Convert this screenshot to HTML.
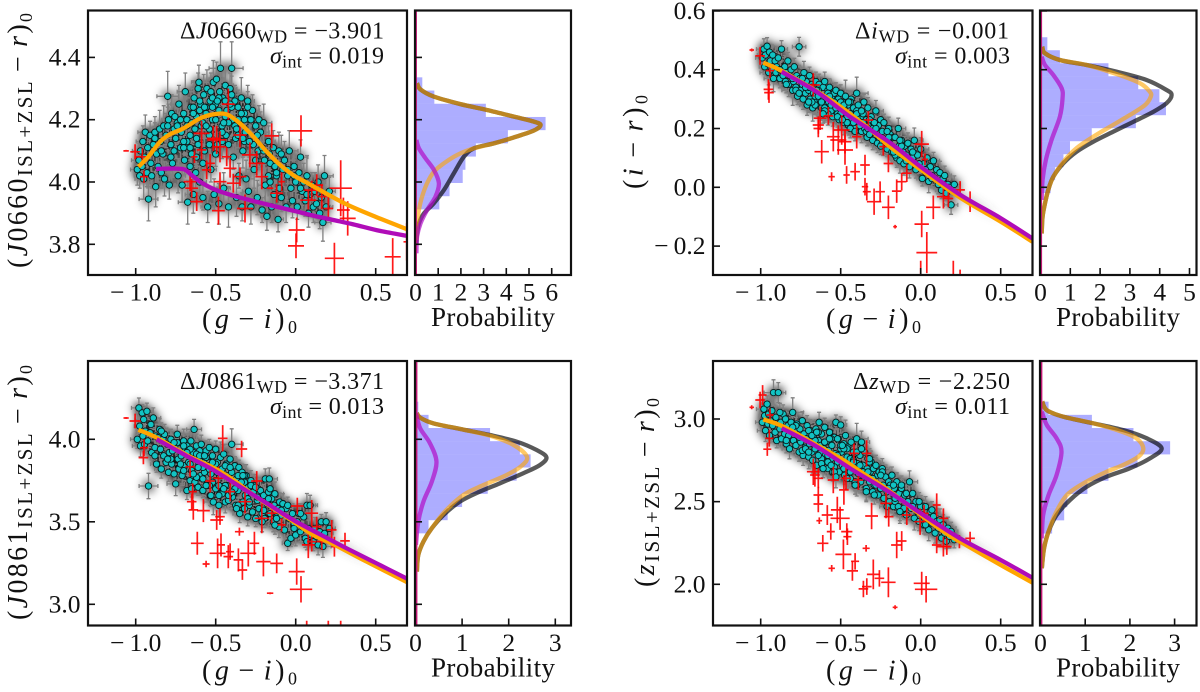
<!DOCTYPE html>
<html lang="en">
<head>
<meta charset="utf-8">
<title>Colour-colour diagrams with probability marginals</title>
<style>
html,body{margin:0;padding:0;background:#fff}
svg{display:block}
text{font-family:"Liberation Serif","DejaVu Serif",serif;fill:#111}
.m{font-style:italic}
.tick{font-size:25.5px}
.lab{font-size:28px}
.note{font-size:24px}
.sub{font-size:18px}
.lsub{font-size:21px}
.prob{font-size:27px}
</style>
</head>
<body>
<svg id="fig" xmlns="http://www.w3.org/2000/svg" width="1200" height="692" viewBox="0 0 1200 692">
<defs>
<filter id="haze" filterUnits="userSpaceOnUse" x="0" y="0" width="1200" height="692"><feGaussianBlur stdDeviation="4.6"/></filter>
<filter id="glow" filterUnits="userSpaceOnUse" x="0" y="0" width="1200" height="692"><feGaussianBlur stdDeviation="4"/></filter>
</defs>
<g id="plots"></g>
<g>
<text class="lab" transform="translate(27,268) rotate(-90)" textLength="255" lengthAdjust="spacing">(<tspan class="m">J</tspan>0660<tspan class="lsub" dy="5">ISL+ZSL</tspan><tspan dy="-5" dx="7">−</tspan><tspan class="m" dx="7">r</tspan>)<tspan class="sub" dy="5">0</tspan></text>
<text class="lab" transform="translate(27,620) rotate(-90)" textLength="255" lengthAdjust="spacing">(<tspan class="m">J</tspan>0861<tspan class="lsub" dy="5">ISL+ZSL</tspan><tspan dy="-5" dx="7">−</tspan><tspan class="m" dx="7">r</tspan>)<tspan class="sub" dy="5">0</tspan></text>
<text class="lab" transform="translate(642.5,189) rotate(-90)" textLength="94" lengthAdjust="spacing">(<tspan class="m">i</tspan><tspan dx="7">−</tspan><tspan class="m" dx="7">r</tspan>)<tspan class="sub" dy="5">0</tspan></text>
<text class="lab" transform="translate(654,587) rotate(-90)" textLength="189" lengthAdjust="spacing">(<tspan class="m">z</tspan><tspan class="lsub" dy="5">ISL+ZSL</tspan><tspan dy="-5" dx="7">−</tspan><tspan class="m" dx="7">r</tspan>)<tspan class="sub" dy="5">0</tspan></text>
<text class="lab" x="202" y="328" textLength="95" lengthAdjust="spacing">(<tspan class="m">g</tspan><tspan dx="6">−</tspan><tspan class="m" dx="6">i</tspan>)<tspan class="sub" dy="5">0</tspan></text>
<text class="lab" x="826" y="328" textLength="95" lengthAdjust="spacing">(<tspan class="m">g</tspan><tspan dx="6">−</tspan><tspan class="m" dx="6">i</tspan>)<tspan class="sub" dy="5">0</tspan></text>
<text class="lab" x="202" y="679.5" textLength="95" lengthAdjust="spacing">(<tspan class="m">g</tspan><tspan dx="6">−</tspan><tspan class="m" dx="6">i</tspan>)<tspan class="sub" dy="5">0</tspan></text>
<text class="lab" x="826" y="679.5" textLength="95" lengthAdjust="spacing">(<tspan class="m">g</tspan><tspan dx="6">−</tspan><tspan class="m" dx="6">i</tspan>)<tspan class="sub" dy="5">0</tspan></text>
<text class="prob" x="431" y="326" textLength="124" lengthAdjust="spacing">Probability</text>
<text class="prob" x="1056" y="326" textLength="124" lengthAdjust="spacing">Probability</text>
<text class="prob" x="431" y="676.7" textLength="124" lengthAdjust="spacing">Probability</text>
<text class="prob" x="1056" y="676.7" textLength="124" lengthAdjust="spacing">Probability</text>
</g>
<g>
<text class="note" x="180" y="38.5" textLength="204" lengthAdjust="spacing">Δ<tspan class="m">J</tspan>0660<tspan class="sub" dy="4">WD</tspan><tspan dy="-4"> = −3.901</tspan></text>
<text class="note" x="270" y="63.5" textLength="114" lengthAdjust="spacing"><tspan class="m">σ</tspan><tspan class="sub" dy="4">int</tspan><tspan dy="-4"> = 0.019</tspan></text>
<text class="note" x="855" y="38.5" textLength="154" lengthAdjust="spacing">Δ<tspan class="m">i</tspan><tspan class="sub" dy="4">WD</tspan><tspan dy="-4"> = −0.001</tspan></text>
<text class="note" x="895" y="63.5" textLength="115" lengthAdjust="spacing"><tspan class="m">σ</tspan><tspan class="sub" dy="4">int</tspan><tspan dy="-4"> = 0.003</tspan></text>
<text class="note" x="180" y="389" textLength="204" lengthAdjust="spacing">Δ<tspan class="m">J</tspan>0861<tspan class="sub" dy="4">WD</tspan><tspan dy="-4"> = −3.371</tspan></text>
<text class="note" x="270" y="414" textLength="114" lengthAdjust="spacing"><tspan class="m">σ</tspan><tspan class="sub" dy="4">int</tspan><tspan dy="-4"> = 0.013</tspan></text>
<text class="note" x="853" y="389" textLength="157" lengthAdjust="spacing">Δ<tspan class="m">z</tspan><tspan class="sub" dy="4">WD</tspan><tspan dy="-4"> = −2.250</tspan></text>
<text class="note" x="895" y="414" textLength="115" lengthAdjust="spacing"><tspan class="m">σ</tspan><tspan class="sub" dy="4">int</tspan><tspan dy="-4"> = 0.011</tspan></text>
</g>
</svg>
<script>
// ---- stellar sample: shared g-i colour ----
const gi = [
-0.99,-0.98,-0.975,-0.97,-0.96,-0.955,-0.95,-0.945,-0.94,-0.93,
-0.925,-0.92,-0.91,-0.905,-0.90,-0.89,-0.88,-0.875,-0.87,-0.86,
-0.85,-0.845,-0.84,-0.83,-0.825,-0.82,-0.81,-0.80,-0.795,-0.79,
-0.78,-0.775,-0.77,-0.76,-0.755,-0.75,-0.74,-0.735,-0.73,-0.72,
-0.715,-0.71,-0.70,-0.695,-0.69,-0.68,-0.675,-0.67,-0.66,-0.655,
-0.65,-0.64,-0.635,-0.63,-0.625,-0.62,-0.61,-0.605,-0.60,-0.595,
-0.59,-0.58,-0.575,-0.57,-0.56,-0.555,-0.55,-0.54,-0.535,-0.53,
-0.52,-0.515,-0.51,-0.50,-0.495,-0.49,-0.48,-0.475,-0.47,-0.46,
-0.455,-0.45,-0.44,-0.435,-0.43,-0.42,-0.41,-0.40,-0.395,-0.39,
-0.38,-0.375,-0.37,-0.36,-0.355,-0.35,-0.34,-0.335,-0.33,-0.32,
-0.315,-0.31,-0.30,-0.295,-0.29,-0.28,-0.27,-0.265,-0.26,-0.25,
-0.24,-0.235,-0.23,-0.22,-0.21,-0.20,-0.195,-0.19,-0.18,-0.17,
-0.165,-0.16,-0.15,-0.14,-0.135,-0.13,-0.12,-0.11,-0.105,-0.10,
-0.09,-0.08,-0.07,-0.06,-0.05,-0.04,-0.03,-0.02,-0.01,0.0,
0.01,0.02,0.03,0.04,0.05,0.06,0.07,0.08,0.09,0.10,
0.11,0.12,0.13,0.14,0.15,0.16,0.17,0.18,0.19,0.21,
-0.68,-0.66,-0.64,-0.62,-0.60,-0.58,-0.56,-0.54,-0.52,-0.50,
-0.48,-0.46,-0.44,-0.42,-0.40,-0.38,-0.36,-0.34,-0.32,-0.30,
-0.78,-0.74,-0.70,-0.66,-0.62,-0.58,-0.54,-0.50,-0.46,-0.42,
-0.88,-0.84,-0.80,-0.76,-0.72,-0.68,-0.64,-0.60,-0.56,-0.52,
-0.48,-0.44,-0.40,-0.36,-0.32,-0.28,-0.24,-0.20,-0.16,-0.12,
-0.70,-0.65,-0.61,-0.57,-0.53,-0.49,-0.45,-0.41,-0.37,-0.33,
-0.29,-0.25,-0.21,-0.17,-0.13,-0.09,-0.05,-0.01,0.03,0.07];
const errWeight = [
1.0,1.1,.8,1.2,.9,1.0,1.3,.8,1.1,.9,
1.0,1.4,.9,1.2,.8,1.1,1.0,1.3,.9,1.0,
1.2,.8,1.0,.9,1.3,1.1,.8,1.6,1.0,.9,
1.1,1.2,.9,1.0,.8,1.3,1.0,1.1,1.2,.9,
.8,1.1,1.3,.9,1.2,1.0,1.4,.8,1.1,1.0,
.9,1.2,1.1,.8,1.0,1.3,.9,1.1,1.0,1.2,
1.0,.8,1.3,.9,1.1,1.2,1.0,.9,1.1,.8,
1.2,1.4,1.0,.9,1.1,.8,1.3,1.0,1.7,.9,
1.1,1.0,1.2,.8,.9,1.3,1.0,1.7,1.1,.8,
1.0,.9,1.2,1.1,.8,1.0,1.3,.9,1.1,1.0,
.8,1.2,1.0,.9,1.3,1.1,1.0,.8,1.2,.9,
1.1,1.0,.9,1.3,.8,1.2,1.0,1.1,.9,1.0,
1.2,.8,1.0,1.1,.9,1.3,1.0,.8,1.2,1.0,
.9,1.1,1.2,1.0,.8,1.3,.9,1.1,1.0,1.2,
.8,1.0,1.1,.9,1.2,1.0,1.3,.9,1.1,.8,
1.0,1.2,.9,1.1,1.0,.8,1.2,1.3,1.0,.9,
.9,1.0,.8,1.1,1.0,.9,1.2,.8,1.0,.9,
1.1,.8,1.0,.9,1.2,1.0,.8,1.1,.9,1.0,
.9,1.1,.8,1.0,.9,1.2,1.0,.8,1.1,.9,
1.0,.9,1.2,.8,1.1,1.0,.9,1.2,.8,1.1,
.9,1.0,1.2,.8,1.1,.9,1.0,1.2,.8,1.0,
1.1,.9,1.0,.8,1.2,.9,1.1,1.0,.8,1.2,
1.0,.9,1.1,.8,1.0,1.2,.9,1.0,1.1,.9];
// ---- stellar sample: per-panel colours ----
const j0660Colour = [
4.04,4.07,4.02,4.10,4.05,4.13,4.01,4.08,4.16,4.03,
4.11,3.945,4.15,4.06,4.02,4.12,4.16,3.985,4.09,4.05,
4.17,4.13,4.03,4.09,4.18,4.01,4.15,4.275,4.20,3.99,
4.12,4.22,4.06,4.17,4.21,4.14,4.19,4.02,4.25,4.11,
4.16,3.99,4.22,4.07,4.29,4.13,3.935,4.19,4.05,4.24,
4.09,3.96,4.27,4.17,4.03,4.21,4.12,4.32,4.00,4.25,
4.18,3.95,4.28,4.10,4.22,4.30,3.92,4.15,4.26,4.04,
4.20,4.32,3.96,4.25,4.33,4.12,3.93,4.29,4.365,4.18,
4.27,3.98,4.31,4.15,4.23,3.92,4.30,4.365,4.20,4.08,
4.26,4.14,3.95,4.24,4.02,4.19,4.27,3.92,4.10,4.22,
4.16,4.01,4.26,3.97,4.20,3.92,4.23,4.12,4.04,4.18,
3.95,4.10,4.20,4.16,3.91,4.19,4.07,3.99,3.89,4.13,
4.09,4.00,3.92,4.11,3.96,4.06,4.02,3.88,4.10,3.98,
3.95,4.04,4.07,3.92,4.02,4.10,3.98,3.94,4.05,4.00,
3.92,4.03,4.08,3.97,4.00,3.94,4.02,3.90,3.96,3.99,
3.92,3.97,3.93,4.00,3.90,3.95,3.87,4.02,3.92,3.97,
4.20,4.15,4.24,4.14,4.26,4.19,4.24,4.17,4.27,4.20,
4.23,4.16,4.26,4.19,4.24,4.18,4.15,4.22,4.13,4.24,
4.08,4.18,4.13,4.11,4.08,4.06,4.12,4.09,4.13,4.12,
4.14,4.10,4.18,4.10,4.20,4.18,4.22,4.23,4.18,4.24,
4.27,4.21,4.28,4.20,4.20,4.20,4.15,4.10,4.06,4.03,
4.11,4.19,4.30,4.24,4.29,4.26,4.19,4.25,4.17,4.14,
4.13,4.07,4.11,4.02,4.05,4.09,4.04,4.02,3.98,3.96];
const iColour = [
.44,.47,.41,.45,.48,.42,.39,.46,.43,.40,
.45,.37,.43,.39,.41,.44,.37,.40,.47,.38,
.41,.36,.39,.43,.35,.38,.40,.33,.36,.41,
.34,.38,.31,.478,.37,.33,.35,.30,.39,.32,
.36,.28,.33,.38,.30,.35,.27,.32,.29,.36,
.33,.28,.35,.30,.31,.27,.34,.29,.36,.30,
.26,.33,.29,.34,.27,.31,.24,.32,.28,.33,
.25,.30,.23,.32,.27,.29,.22,.26,.31,.24,
.28,.21,.25,.30,.23,.27,.20,.32,.24,.28,
.22,.26,.19,.24,.29,.20,.23,.17,.27,.21,
.18,.24,.16,.22,.20,.26,.15,.21,.17,.23,
.19,.14,.22,.16,.13,.20,.15,.18,.12,.17,
.13,.17,.10,.20,.14,.09,.16,.12,.08,.14,
.11,.15,.07,.13,.10,.16,.06,.11,.08,.13,
.03,.08,.05,.10,.02,.07,.04,.09,.03,.06,
.01,.05,-.01,.03,.04,-.02,.01,.0,-.06,.01,
.34,.28,.33,.31,.27,.32,.26,.29,.28,.25,
.27,.24,.29,.22,.26,.21,.25,.19,.23,.20,
.33,.37,.34,.31,.29,.25,.28,.29,.22,.24,
.40,.35,.37,.32,.34,.29,.31,.26,.28,.24,
.28,.20,.25,.22,.18,.20,.15,.17,.11,.14,
.29,.33,.25,.31,.27,.23,.29,.19,.26,.20,
.22,.14,.19,.12,.16,.09,.12,.08,.06,.03];
const j0861Colour = [
4.0,4.19,4.08,3.96,4.16,4.02,4.12,3.97,4.05,4.17,
3.99,3.717,4.04,4.09,3.92,4.13,3.95,4.02,3.85,4.01,
4.06,3.94,3.82,4.0,3.9,4.03,3.86,3.97,3.8,3.92,
4.0,3.85,3.93,3.79,3.96,3.73,4.03,3.88,3.82,3.98,
3.9,3.78,3.99,3.84,3.93,3.69,3.95,3.86,3.75,3.99,
3.81,3.92,4.06,3.74,3.88,3.96,3.71,3.85,3.93,3.78,
3.97,3.69,3.87,3.8,3.93,3.72,3.84,3.95,3.66,3.79,
3.9,3.62,3.83,3.94,3.7,3.86,3.6,3.78,3.89,3.67,
3.8,3.91,3.62,3.85,3.72,3.78,3.88,3.97,3.65,3.75,
3.84,3.6,3.76,3.69,3.83,3.55,3.72,3.8,3.62,3.74,
3.66,3.78,3.53,3.71,3.6,3.75,3.56,3.68,3.72,3.52,
3.63,3.7,3.58,3.69,3.55,3.66,3.52,3.76,3.61,3.68,
3.76,3.55,3.64,3.5,3.6,3.67,3.53,3.58,3.47,3.62,
3.54,3.61,3.45,3.58,3.37,3.52,3.4,3.55,3.49,3.42,
3.5,3.55,3.44,3.47,3.53,3.4,3.6,3.46,3.6,3.42,
3.38,3.46,3.41,3.36,3.44,3.5,3.35,3.43,3.5,3.46,
3.96,3.85,3.78,3.91,3.87,3.76,3.89,3.82,3.74,3.85,
3.66,3.82,3.72,3.63,3.8,3.7,3.6,3.74,3.78,3.64,
3.88,3.98,3.81,3.94,3.77,3.83,3.72,3.7,3.82,3.66,
3.9,4.05,3.88,3.98,3.85,3.92,3.79,3.9,3.72,3.86,
3.72,3.84,3.68,3.78,3.58,3.72,3.65,3.57,3.7,3.52,
3.96,3.7,3.83,3.9,3.66,3.8,3.7,3.83,3.58,3.78,
3.62,3.71,3.5,3.64,3.48,3.57,3.6,3.46,3.55,3.38];
const zColour = [
2.98,3.06,3.02,2.93,3.09,2.97,3.03,2.9,2.99,3.05,
2.96,3.16,2.92,3.01,2.87,3.16,2.94,2.98,2.88,3.03,
2.91,3.0,2.85,2.96,2.9,2.82,2.98,3.04,2.87,2.93,
2.84,2.97,2.9,2.8,2.94,2.86,2.99,2.78,2.91,2.83,
2.88,2.96,2.77,2.85,2.93,2.8,2.75,2.9,2.83,2.94,
2.72,2.87,2.98,2.79,2.84,2.91,2.74,2.82,2.95,2.78,
2.86,2.7,2.81,2.92,2.76,2.84,2.68,2.89,2.79,2.98,
2.74,2.88,2.68,2.964,2.8,2.72,2.85,2.66,2.9,2.77,
2.83,2.65,2.76,2.86,2.7,2.8,2.62,2.88,2.73,2.67,
2.78,2.62,2.86,2.72,2.65,2.8,2.58,2.7,2.76,2.62,
2.68,2.74,2.56,2.7,2.6,2.72,2.66,2.54,2.68,2.58,
2.7,2.6,2.52,2.65,2.56,2.62,2.5,2.6,2.66,2.47,
2.58,2.5,2.62,2.47,2.55,2.44,2.58,2.52,2.46,2.54,
2.42,2.5,2.62,2.46,2.55,2.4,2.5,2.44,2.38,2.47,
2.42,2.36,2.47,2.39,2.33,2.44,2.37,2.41,2.31,2.38,
2.34,2.39,2.28,2.36,2.31,2.26,2.34,2.29,2.32,2.27,
2.9,2.82,2.92,2.76,2.86,2.74,2.88,2.71,2.78,2.82,
2.7,2.82,2.64,2.75,2.6,2.72,2.68,2.56,2.74,2.64,
2.96,2.81,2.93,2.87,2.73,2.78,2.68,2.84,2.64,2.74,
3.04,2.87,2.95,2.89,2.82,2.9,2.78,2.86,2.72,2.88,
2.82,2.68,2.8,2.66,2.76,2.6,2.68,2.58,2.52,2.6,
2.8,2.92,2.7,2.88,2.65,2.84,2.72,2.6,2.82,2.68,
2.54,2.66,2.47,2.6,2.44,2.55,2.47,2.5,2.36,2.45];
// ---- red outlier stars: panel J0660 ----
const redXJ0660 = [-1.06,-1.004,-.958,-.948,-.66,-.65,-.619,-.633,-.588,-.494,-.473,-.483,-.535,-.473,-.41,-.421,-.515,-.348,-.244,-.286,-.212,-.15,-.317,-.39,-.348,-.16,-.119,-.088,.033,.006,.002,.079,.1,.131,.163,.204,.242,.281,.298,.325,.606,.694,-.588,-.556,-.431];
const redYJ0660 = [4.10,4.097,4.081,4.017,4.001,3.98,3.937,4.081,4.156,4.135,4.113,3.908,4.06,4.001,4.044,4.25,4.14,4.151,4.06,4.087,4.017,4.148,3.915,3.996,4.017,3.98,3.964,4.001,4.164,3.846,3.795,3.942,3.974,3.99,3.953,3.915,3.755,3.98,3.91,3.883,3.76,3.808,4.103,4.039,4.081];
const redExJ0660 = [.017,.03,.04,.025,.04,.04,.04,.02,.05,.06,.04,.04,.03,.04,.04,.04,.04,.04,.05,.05,.04,.045,.05,.04,.04,.02,.04,.02,.07,.05,.05,.05,.05,.04,.03,.03,.06,.07,.04,.05,.05,.02,.03,.03,.03];
const redEyJ0660 = [.003,.024,.027,.02,.03,.03,.03,.02,.04,.045,.05,.045,.03,.03,.03,.05,.04,.04,.04,.04,.04,.04,.045,.03,.03,.003,.03,.03,.05,.04,.04,.03,.03,.035,.04,.04,.05,.09,.04,.055,.06,.06,.03,.03,.03];
// ---- red outlier stars: panel i ----
const redXI = [-1.056,-1.004,-.942,-.952,-.948,-.671,-.629,-.577,-.64,-.64,-.619,-.546,-.494,-.515,-.473,-.4,-.473,-.327,-.234,-.348,-.557,-.463,-.41,-.202,-.348,-.337,-.254,-.291,-.202,-.15,-.119,-.087,-.16,.006,.038,.079,.006,.027,.0,.204,.246,.142,.173,.246,.309];
const redYI = [.467,.447,.397,.333,.322,.348,.235,.243,.212,.2,.121,.172,.195,.161,.155,.172,.127,.229,.138,.076,.036,.042,.053,.081,.002,-.015,-.015,-.049,-.068,-.013,.019,.048,-.134,-.125,-.222,-.068,.147,.095,-.31,-.3,-.31,-.032,-.038,-.009,-.049];
const redExI = [.014,.03,.025,.03,.03,.04,.04,.03,.035,.03,.045,.04,.05,.05,.04,.03,.05,.03,.025,.03,.02,.02,.03,.03,.02,.025,.03,.045,.04,.03,.03,.03,.012,.045,.065,.045,.045,.02,.03,.03,.03,.04,.03,.03,.02];
const redEyI = [.005,.03,.025,.035,.035,.04,.04,.03,.03,.03,.04,.05,.05,.05,.04,.04,.05,.03,.03,.035,.015,.03,.03,.03,.03,.03,.035,.045,.04,.04,.03,.03,.006,.045,.07,.04,.045,.02,.06,.05,.03,.04,.03,.03,.035];
// ---- red outlier stars: panel J0861 ----
const redXJ0861 = [-1.06,-1.004,-.948,-.952,-.66,-.644,-.65,-.64,-.577,-.494,-.473,-.535,-.483,-.456,-.338,-.41,-.244,-.317,-.212,-.15,-.088,.01,.1,.131,.225,.308,.079,.1,.163,.242,-.615,-.56,-.488,-.467,-.421,-.41,-.358,-.333,-.296,-.258,-.202,-.119,-.352,-.16,.006,.033,.069,.204,.281];
const redYJ0861 = [4.129,4.111,3.949,3.889,3.834,3.683,3.622,3.572,3.568,3.511,3.531,3.747,3.764,4.006,3.941,3.683,3.747,3.622,3.521,3.552,3.481,3.596,3.552,3.471,3.451,3.384,3.36,3.38,3.38,3.349,3.37,3.244,3.309,3.36,3.289,3.319,3.269,3.208,3.309,3.37,3.259,3.248,3.44,3.067,3.198,3.091,2.82,2.82,2.82];
const redExJ0861 = [.016,.035,.025,.03,.03,.025,.03,.03,.04,.04,.03,.03,.03,.03,.035,.03,.035,.04,.045,.03,.025,.04,.04,.03,.03,.03,.04,.03,.03,.02,.04,.022,.05,.025,.03,.025,.03,.03,.05,.03,.045,.04,.028,.02,.05,.07,.01,.01,.01];
const redEyJ0861 = [.006,.045,.05,.04,.06,.05,.05,.06,.07,.06,.05,.07,.07,.08,.05,.06,.06,.07,.09,.06,.04,.05,.08,.06,.06,.05,.08,.06,.05,.06,.07,.02,.09,.07,.07,.05,.07,.06,.08,.07,.09,.06,.025,.006,.08,.08,.08,.08,.08];
// ---- red outlier stars: panel z ----
const redXZ = [-1.056,-1.004,-.988,-.942,-.946,-.959,-.671,-.661,-.64,-.64,-.64,-.584,-.634,-.521,-.504,-.48,-.467,-.546,-.417,-.338,-.39,-.307,-.217,-.2,-.562,-.612,-.462,-.458,-.483,-.556,-.41,-.427,-.341,-.358,-.337,-.296,-.258,-.202,-.15,-.119,-.087,-.16,.006,.034,-.004,.1,.021,.142,.142,.163,.1,.309,.242];
const redYZ = [3.071,3.115,3.145,3.024,2.883,2.817,2.681,2.661,2.641,2.54,2.486,2.419,2.385,2.45,2.399,2.571,2.641,2.631,2.792,2.792,2.631,2.413,2.49,2.409,2.319,2.248,2.319,2.288,2.181,2.097,2.139,2.081,2.218,1.972,1.986,2.06,2.036,2.012,2.238,2.262,2.419,1.861,2.006,1.97,2.379,2.48,2.429,2.399,2.228,2.228,2.238,2.278,2.258];
const redExZ = [.014,.03,.025,.022,.025,.025,.04,.03,.03,.03,.03,.035,.018,.04,.06,.03,.03,.035,.03,.03,.03,.04,.035,.03,.025,.035,.035,.025,.05,.02,.025,.035,.022,.03,.03,.04,.03,.045,.035,.03,.03,.015,.05,.07,.035,.025,.03,.03,.04,.03,.03,.03,.025];
const redEyZ = [.012,.05,.06,.04,.05,.04,.08,.07,.06,.05,.05,.06,.02,.08,.07,.09,.07,.08,.06,.08,.06,.08,.09,.06,.05,.05,.05,.05,.09,.02,.05,.06,.02,.05,.05,.09,.05,.09,.08,.06,.06,.012,.07,.08,.08,.07,.05,.06,.06,.05,.05,.04,.04];
// ---- model sequences in the colour-colour plane ----
const orangeXJ0660 = [-.983,-.921,-.848,-.786,-.702,-.598,-.515,-.431,-.348,-.265,-.181,-.098,-.015,.069,.152,.319,.506,.698];
const orangeYJ0660 = [4.049,4.081,4.129,4.153,4.172,4.204,4.217,4.217,4.188,4.146,4.097,4.055,4.022,3.998,3.974,3.928,3.887,3.848];
const magentaXJ0660 = [-.873,-.806,-.702,-.650,-.598,-.515,-.390,-.265,-.140,-.015,.110,.235,.360,.527,.698];
const magentaYJ0660 = [4.042,4.043,4.041,4.022,4.001,3.978,3.956,3.939,3.923,3.908,3.892,3.878,3.864,3.843,3.827];
const orangeXI = [-.984,-.859,-.546,-.338,-.192,0,.246,.5,.698];
const orangeYI = [.424,.393,.291,.206,.138,.06,-.035,-.117,-.185];
const magentaXI = [-.869,-.65,-.442,-.2,0,.246,.5,.698];
const magentaYI = [.393,.325,.24,.155,.07,-.025,-.105,-.174];
const orangeXJ0861 = [-.983,-.869,-.681,-.515,-.39,-.265,-.14,-.015,.11,.235,.44,.698];
const orangeYJ0861 = [4.057,4.01,3.905,3.828,3.754,3.663,3.582,3.501,3.42,3.364,3.26,3.133];
const magentaXJ0861 = [-.869,-.681,-.515,-.348,-.181,-.015,.152,.319,.506,.698];
const magentaYJ0861 = [4.0,3.899,3.814,3.713,3.612,3.511,3.424,3.339,3.248,3.154];
const orangeXZ = [-.984,-.859,-.65,-.484,-.359,-.202,0,.163,.246,.5,.698];
const orangeYZ = [2.998,2.954,2.843,2.752,2.671,2.57,2.42,2.305,2.258,2.117,2.01];
const magentaXZ = [-.869,-.65,-.442,-.2,0,.246,.5,.698];
const magentaYZ = [2.944,2.833,2.702,2.56,2.43,2.278,2.147,2.04];
// ---- marginal histograms ----
const histStartJ0660 = 3.912, histStepJ0660 = .0424;
const histProbJ0660 = [1.05,1.5,2.08,2.2,2.66,4.07,5.73,3.1,.83,.3];
const histStartI = -.02, histStepI = .0442;
const histProbI = [.34,.49,.77,.99,1.72,3.2,4.21,3.99,3.28,2.28,.65,.23];
const histStartJ0861 = 3.43, histStepJ0861 = .0798;
const histProbJ0861 = [.28,.69,1.0,1.55,2.17,2.47,2.24,1.6,.28,.06];
const histStartZ = 2.307, histStepZ = .0798;
const histProbZ = [.26,.53,.6,1.05,1.52,2.17,2.9,2.08,1.15,.18];
// ---- marginal density curves: colour value, probability ----
const totalVJ0660 = [4.317,4.297,4.274,4.25,4.231,4.21,4.194,4.183,4.165,4.143,4.124,4.108,4.081,4.028,3.974,3.932,3.899,3.867,3.835,3.803];
const totalPJ0660 = [.07,.22,.81,1.98,3.16,4.33,5.21,5.51,5.21,4.33,3.45,2.57,2.13,1.69,1.25,.81,.37,.15,.07,.04];
const orangeVJ0660 = [4.317,4.297,4.274,4.25,4.231,4.21,4.194,4.183,4.165,4.143,4.124,4.108,4.087,4.06,4.033,3.996,3.953,3.91,3.867,3.814];
const orangePJ0660 = [.07,.22,.81,1.98,3.16,4.33,5.21,5.51,5.21,4.33,3.45,2.57,1.84,1.25,.81,.51,.29,.15,.07,.04];
const magentaVJ0660 = [4.135,4.108,4.076,4.039,3.996,3.953,3.91,3.867,3.825,3.771];
const magentaPJ0660 = [.04,.15,.44,.81,1.03,.88,.51,.22,.07,.04];
const totalVI = [.478,.456,.433,.416,.393,.365,.331,.314,.286,.257,.223,.189,.155,.121,.082,.036,-.009,-.055,-.1,-.157];
const totalPI = [.06,.15,.65,1.55,2.56,3.56,4.23,4.4,4.23,3.79,3.12,2.44,1.77,1.21,.77,.43,.26,.15,.07,.04];
const orangeVI = [.478,.456,.433,.416,.385,.354,.325,.308,.28,.246,.206,.172,.133,.087,.036,-.009,-.055,-.1,-.157];
const orangePI = [.06,.15,.65,1.55,2.56,3.34,3.67,3.7,3.51,3.0,2.33,1.77,1.21,.77,.43,.26,.15,.07,.04];
const magentaVI = [.444,.416,.382,.337,.303,.24,.161,.093,.025,-.043];
const magentaPI = [.04,.15,.43,.71,.74,.65,.37,.18,.07,.04];
const totalVJ0861 = [4.158,4.131,4.097,4.063,4.026,3.986,3.935,3.891,3.844,3.794,3.733,3.683,3.622,3.541,3.461,3.38,3.299,3.198];
const totalPJ0861 = [.03,.1,.38,.95,1.6,2.17,2.6,2.81,2.67,2.31,1.81,1.38,.95,.6,.35,.17,.06,.03];
const orangeVJ0861 = [4.158,4.131,4.097,4.063,4.022,3.966,3.895,3.84,3.784,3.723,3.663,3.562,3.461,3.38,3.299,3.198];
const orangePJ0861 = [.03,.1,.38,.95,1.6,2.1,2.39,2.28,1.96,1.46,1.03,.63,.35,.17,.06,.03];
const magentaVJ0861 = [4.158,4.067,3.976,3.865,3.743,3.622,3.501,3.36];
const magentaPJ0861 = [.01,.1,.31,.45,.35,.17,.06,.01];
const totalVZ = [3.105,3.054,3.014,2.974,2.933,2.883,2.823,2.762,2.702,2.651,2.591,2.51,2.419,2.319,2.218,2.097];
const totalPZ = [.04,.14,.51,1.18,1.85,2.38,2.71,2.45,2,1.48,1.04,.66,.36,.18,.08,.03];
const orangeVZ = [3.105,3.054,3.014,2.974,2.927,2.883,2.823,2.772,2.722,2.681,2.621,2.54,2.419,2.319,2.218,2.097];
const orangePZ = [.04,.14,.51,1.18,1.78,2.15,2.3,2.19,1.85,1.48,1.03,.59,.32,.18,.08,.03];
const magentaVZ = [3.044,2.964,2.883,2.802,2.661,2.54,2.419,2.278];
const magentaPZ = [.03,.14,.36,.47,.36,.18,.06,.03];
// ---- ticks ----
const giTicks = [-1,-.5,0,.5];
const giTickLabels = ['−1.0','−0.5','0.0','0.5'];
const yTicksJ0660 = [3.8,4.0,4.2,4.4];
const yLabelsJ0660 = ['3.8','4.0','4.2','4.4'];
const yTicksI = [-.2,0,.2,.4,.6];
const yLabelsI = ['−0.2','0.0','0.2','0.4','0.6'];
const yTicksJ0861 = [3,3.5,4];
const yLabelsJ0861 = ['3.0','3.5','4.0'];
const yTicksZ = [2,2.5,3];
const yLabelsZ = ['2.0','2.5','3.0'];
const probTicksJ0660 = [0,1,2,3,4,5,6];
const probTicksI = [0,1,2,3,4,5];
const probTicksJ0861 = [0,1,2,3];
const probTicksZ = [0,1,2,3];

const NS = 'http://www.w3.org/2000/svg';
const root = document.getElementById('plots');
function add(parent, tag, attrs){
  const e = document.createElementNS(NS, tag);
  for (const k in attrs) e.setAttribute(k, attrs[k]);
  parent.appendChild(e);
  return e;
}
function smooth(pts){
  let d = 'M' + pts[0][0].toFixed(2) + ' ' + pts[0][1].toFixed(2);
  for (let i = 0; i < pts.length - 1; i++){
    const p0 = pts[Math.max(i-1,0)], p1 = pts[i], p2 = pts[i+1], p3 = pts[Math.min(i+2,pts.length-1)];
    const c1x = p1[0]+(p2[0]-p0[0])/6, c1y = p1[1]+(p2[1]-p0[1])/6;
    const c2x = p2[0]-(p3[0]-p1[0])/6, c2y = p2[1]-(p3[1]-p1[1])/6;
    d += 'C'+c1x.toFixed(2)+' '+c1y.toFixed(2)+' '+c2x.toFixed(2)+' '+c2y.toFixed(2)+' '+p2[0].toFixed(2)+' '+p2[1].toFixed(2);
  }
  return d;
}
function tickLabel(g, x, y, anchor, label, name){
  const t = add(g, 'text', {x:x, y:y, 'text-anchor':anchor, class:'tick'});
  
  
  if (label[0] === '−'){
    const a = add(t, 'tspan', {});
    a.textContent = '−';
    const b = add(t, 'tspan', {dx:'5'});
    b.textContent = label.slice(1);
  } else {
    t.textContent = label;
  }
}
function drawPanel(c){
  const panel = add(root, 'g', {});
  
  
  const X = v => c.x0 + 160 * v;
  const Y = v => c.yRef - (v - c.vRef) * c.yK;
  const P = p => c.p0 + c.pK * p;
  const clipMain = add(panel, 'clipPath', {id:'clip-main-' + c.id});
  add(clipMain, 'rect', {x:c.left, y:c.top, width:c.right-c.left, height:c.bottom-c.top});
  const clipSide = add(panel, 'clipPath', {id:'clip-side-' + c.id});
  add(clipSide, 'rect', {x:c.sLeft, y:c.top, width:c.sRight-c.sLeft, height:c.bottom-c.top});

  // ---------- main axes ----------
  const main = add(panel, 'g', {'clip-path':'url(#clip-main-' + c.id + ')'});
  
  

  const cloud = add(main, 'g', {filter:'url(#haze)', fill:'#000', 'fill-opacity':'0.6'});
  
  
  gi.forEach((g, i) => {
    add(cloud, 'circle', {cx:X(g).toFixed(1), cy:Y(c.y[i]).toFixed(1), r:6.5});
  });

  if (c.glow){
    const gradId = 'glow-grad-' + c.id;
    const grad = add(panel, 'linearGradient', {id:gradId, gradientUnits:'userSpaceOnUse', x1:X(0.1), y1:0, x2:X(0.5), y2:0});
    add(grad, 'stop', {offset:'0', 'stop-color':'#555', 'stop-opacity':'0.55'});
    add(grad, 'stop', {offset:'1', 'stop-color':'#555', 'stop-opacity':'0'});
    const g = add(main, 'path', {d:smooth(c.mx.map((v,i)=>[X(v),Y(c.my[i])])), fill:'none', stroke:'url(#'+gradId+')', 'stroke-width':9, filter:'url(#glow)'});
    
    
  }

  const errs = add(main, 'g', {stroke:'#808080', 'stroke-width':1.3, fill:'none'});
  
  
  gi.forEach((g, i) => {
    const px = X(g), py = Y(c.y[i]);
    const ex = 160 * 0.042 * errWeight[i];
    const ey = c.yK * c.ey * errWeight[i];
    const d = 'M'+(px-ex).toFixed(1)+' '+py.toFixed(1)+'H'+(px+ex).toFixed(1)
      +'M'+px.toFixed(1)+' '+(py-ey).toFixed(1)+'V'+(py+ey).toFixed(1)
      +'M'+(px-2).toFixed(1)+' '+(py-ey).toFixed(1)+'h4M'+(px-2).toFixed(1)+' '+(py+ey).toFixed(1)+'h4'
      +'M'+(px-ex).toFixed(1)+' '+(py-2).toFixed(1)+'v4M'+(px+ex).toFixed(1)+' '+(py-2).toFixed(1)+'v4';
    add(errs, 'path', {d:d});
  });

  const dots = add(main, 'g', {fill:'#12c3c3', stroke:'#0a1a1a', 'stroke-width':0.9});
  
  
  gi.forEach((g, i) => {
    const dot = add(dots, 'circle', {cx:X(g).toFixed(1), cy:Y(c.y[i]).toFixed(1), r:3.2});
    
    
  });

  const reds = add(main, 'g', {stroke:'#ff0000', 'stroke-width':1.7, 'stroke-opacity':0.9, fill:'none'});
  
  
  c.rx.forEach((v, i) => {
    const px = X(v), py = Y(c.ry[i]);
    const ex = 160 * c.rex[i], ey = c.yK * c.rey[i];
    const cross = add(reds, 'path', {d:'M'+(px-ex).toFixed(1)+' '+py.toFixed(1)+'H'+(px+ex).toFixed(1)+'M'+px.toFixed(1)+' '+(py-ey).toFixed(1)+'V'+(py+ey).toFixed(1)});
    
    
  });

  const oLine = add(main, 'path', {d:smooth(c.ox.map((v,i)=>[X(v),Y(c.oy[i])])), fill:'none', stroke:'#ffa500', 'stroke-width':4.3, 'stroke-linejoin':'round'});
  
  
  const mLine = add(main, 'path', {d:smooth(c.mx.map((v,i)=>[X(v),Y(c.my[i])])), fill:'none', stroke:'#b00cb8', 'stroke-width':4.3, 'stroke-linejoin':'round'});
  
  

  const frame = add(panel, 'rect', {x:c.left, y:c.top, width:c.right-c.left, height:c.bottom-c.top, fill:'none', stroke:'#111', 'stroke-width':2.2});
  
  

  const axes = add(panel, 'g', {stroke:'#111', 'stroke-width':1.6});
  
  
  giTicks.forEach((v, i) => {
    const t = add(axes, 'line', {x1:X(v), x2:X(v), y1:c.bottom, y2:c.bottom-7});
    
    
    tickLabel(panel, X(v), c.bottom + 25.5, 'middle', giTickLabels[i], 'x-tick-label');
  });
  c.yTicks.forEach((v, i) => {
    const t = add(axes, 'line', {x1:c.left, x2:c.left+7, y1:Y(v), y2:Y(v)});
    
    
    const s = add(axes, 'line', {x1:c.sLeft, x2:c.sLeft+7, y1:Y(v), y2:Y(v)});
    
    
    tickLabel(panel, c.left - 7.5, Y(v) + 8, 'end', c.yLabels[i], 'y-tick-label');
  });

  // ---------- marginal axes ----------
  const side = add(panel, 'g', {'clip-path':'url(#clip-side-' + c.id + ')'});
  
  
  c.hist.forEach((p, i) => {
    const lo = c.histStart + i * c.histStep, hi = lo + c.histStep;
    const bar = add(side, 'rect', {x:P(0), y:Y(hi), width:P(p)-P(0), height:Y(lo)-Y(hi), fill:'#0000ff', 'fill-opacity':0.32, stroke:'none'});
    
    
  });
  const tCurve = add(side, 'path', {d:smooth(c.tv.map((v,i)=>[P(c.tp[i]),Y(v)])), fill:'none', stroke:'#000', 'stroke-opacity':0.65, 'stroke-width':4.3});
  
  
  const oCurve = add(side, 'path', {d:smooth(c.ov.map((v,i)=>[P(c.op[i]),Y(v)])), fill:'none', stroke:'#ffa500', 'stroke-opacity':0.6, 'stroke-width':4.3});
  
  
  const mCurve = add(side, 'path', {d:smooth(c.mv.map((v,i)=>[P(c.mp[i]),Y(v)])), fill:'none', stroke:'#b00cc8', 'stroke-opacity':0.7, 'stroke-width':4.3});
  
  
  const floor = add(side, 'line', {x1:P(0.02), x2:P(0.02), y1:c.top, y2:c.bottom, stroke:'#d0187c', 'stroke-width':2});
  
  

  const sFrame = add(panel, 'rect', {x:c.sLeft, y:c.top, width:c.sRight-c.sLeft, height:c.bottom-c.top, fill:'none', stroke:'#111', 'stroke-width':2.2});
  
  
  c.pTicks.forEach(p => {
    if (p !== 0){
      const t = add(axes, 'line', {x1:P(p), x2:P(p), y1:c.bottom, y2:c.bottom-7});
      
      
    }
    tickLabel(panel, P(p), c.bottom + 25.5, 'middle', String(p), 'probability-tick-label');
  });
  panel.appendChild(axes);
}

drawPanel({id:'j0660', left:88, right:407, top:10.5, bottom:275, x0:295.7, yRef:182, vRef:4.0, yK:311.5,
  sLeft:415, sRight:571, p0:415.5, pK:22.7, y:j0660Colour, ey:.05, glow:false,
  rx:redXJ0660, ry:redYJ0660, rex:redExJ0660, rey:redEyJ0660,
  ox:orangeXJ0660, oy:orangeYJ0660, mx:magentaXJ0660, my:magentaYJ0660,
  yTicks:yTicksJ0660, yLabels:yLabelsJ0660, pTicks:probTicksJ0660,
  hist:histProbJ0660, histStart:histStartJ0660, histStep:histStepJ0660,
  tv:totalVJ0660, tp:totalPJ0660, ov:orangeVJ0660, op:orangePJ0660, mv:magentaVJ0660, mp:magentaPJ0660});
drawPanel({id:'i', left:713, right:1032.5, top:10.5, bottom:275, x0:920.7, yRef:187.3, vRef:0, yK:294,
  sLeft:1040, sRight:1196.5, p0:1040.5, pK:29.8, y:iColour, ey:.032, glow:true,
  rx:redXI, ry:redYI, rex:redExI, rey:redEyI,
  ox:orangeXI, oy:orangeYI, mx:magentaXI, my:magentaYI,
  yTicks:yTicksI, yLabels:yLabelsI, pTicks:probTicksI,
  hist:histProbI, histStart:histStartI, histStep:histStepI,
  tv:totalVI, tp:totalPI, ov:orangeVI, op:orangePI, mv:magentaVI, mp:magentaPI});
drawPanel({id:'j0861', left:88, right:407, top:361, bottom:625.5, x0:295.7, yRef:439.3, vRef:4.0, yK:165,
  sLeft:415, sRight:571, p0:415.5, pK:46.6, y:j0861Colour, ey:.055, glow:true,
  rx:redXJ0861, ry:redYJ0861, rex:redExJ0861, rey:redEyJ0861,
  ox:orangeXJ0861, oy:orangeYJ0861, mx:magentaXJ0861, my:magentaYJ0861,
  yTicks:yTicksJ0861, yLabels:yLabelsJ0861, pTicks:probTicksJ0861,
  hist:histProbJ0861, histStart:histStartJ0861, histStep:histStepJ0861,
  tv:totalVJ0861, tp:totalPJ0861, ov:orangeVJ0861, op:orangePJ0861, mv:magentaVJ0861, mp:magentaPJ0861});
drawPanel({id:'z', left:713, right:1032.5, top:361, bottom:625.5, x0:920.7, yRef:419, vRef:3.0, yK:165.3,
  sLeft:1040, sRight:1196.5, p0:1040.5, pK:44.7, y:zColour, ey:.055, glow:true,
  rx:redXZ, ry:redYZ, rex:redExZ, rey:redEyZ,
  ox:orangeXZ, oy:orangeYZ, mx:magentaXZ, my:magentaYZ,
  yTicks:yTicksZ, yLabels:yLabelsZ, pTicks:probTicksZ,
  hist:histProbZ, histStart:histStartZ, histStep:histStepZ,
  tv:totalVZ, tp:totalPZ, ov:orangeVZ, op:orangePZ, mv:magentaVZ, mp:magentaPZ});
</script>
</body>
</html>
